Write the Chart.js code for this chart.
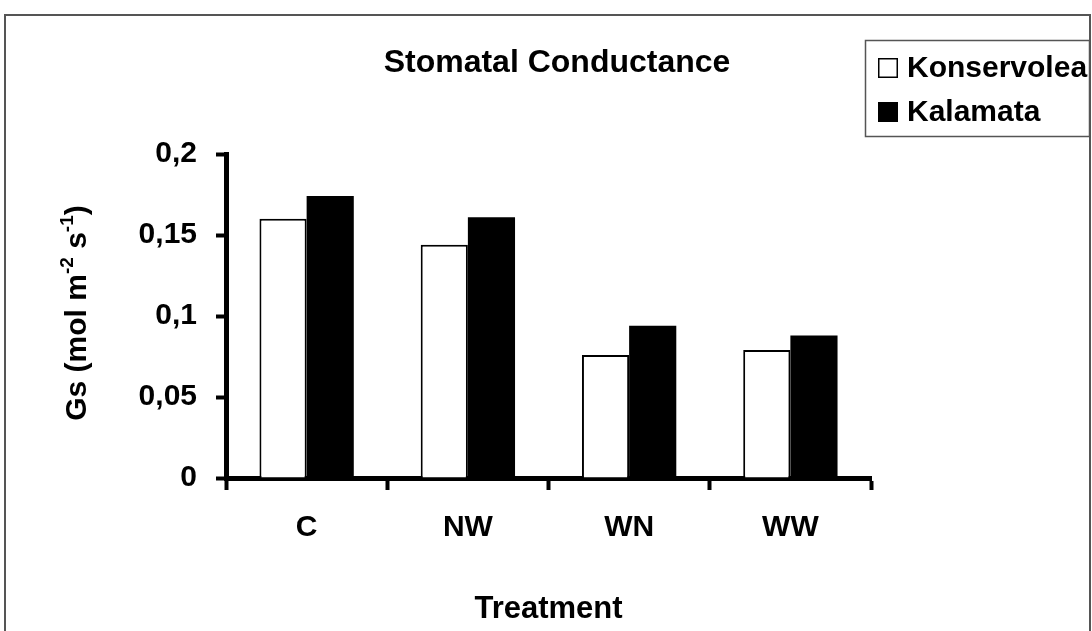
<!DOCTYPE html>
<html>
<head>
<meta charset="utf-8">
<script src="https://cdn.jsdelivr.net/npm/chart.js@4"></script>
<style>
  html, body { margin: 0; padding: 0; background: #fff; }
  #wrap { width: 1092px; height: 631px; position: relative; }
</style>
</head>
<body>
<div id="wrap"><canvas id="gsChart"></canvas></div>
<script>
// data
const treatments = ['C', 'NW', 'WN', 'WW'];
const konservolea = [0.160, 0.144, 0.076, 0.079];
const kalamata = [0.174, 0.161, 0.094, 0.088];
const yTickLabels = ['0', '0,05', '0,1', '0,15', '0,2'];

const chartTitle = 'Stomatal Conductance';
const xTitle = 'Treatment';
// y title pieces, true = superscript
const yTitleParts = [['Gs (mol m', false], ['-2', true], [' s', false], ['-1', true], [')', false]];

const FONT = '"Liberation Sans", Arial, sans-serif';

// titles, legend and frame drawn on top of the chart
const decorations = {
  id: 'decorations',
  beforeDraw(chart) {
    const ctx = chart.ctx;
    ctx.save();
    ctx.fillStyle = '#fff';
    ctx.fillRect(0, 0, chart.width, chart.height);
    ctx.strokeStyle = '#555';
    ctx.lineWidth = 2;
    ctx.strokeRect(5, 15, 1085, 700);
    ctx.restore();
  },
  afterDraw(chart) {
    const ctx = chart.ctx;
    const area = chart.chartArea;
    ctx.save();
    ctx.fillStyle = '#000';
    ctx.textBaseline = 'middle';

    // chart title
    ctx.font = 'bold 32px ' + FONT;
    ctx.textAlign = 'center';
    ctx.fillText(chartTitle, 557, 63);

    // x axis title
    ctx.font = 'bold 31px ' + FONT;
    ctx.fillText(xTitle, (area.left + area.right) / 2, 609);

    // y axis title with superscripts
    ctx.translate(78, (area.top + area.bottom) / 2 - 3);
    ctx.rotate(-Math.PI / 2);
    const big = 'bold 30px ' + FONT, small = 'bold 19px ' + FONT;
    let total = 0;
    yTitleParts.forEach(([t, sup]) => {
      ctx.font = sup ? small : big;
      total += ctx.measureText(t).width;
    });
    let x = -total / 2;
    ctx.textAlign = 'left';
    yTitleParts.forEach(([t, sup]) => {
      ctx.font = sup ? small : big;
      ctx.fillText(t, x, sup ? -10 : 0);
      x += ctx.measureText(t).width;
    });
    ctx.restore();

    // legend
    ctx.save();
    ctx.strokeStyle = '#555';
    ctx.lineWidth = 1.5;
    ctx.fillStyle = '#fff';
    ctx.fillRect(865, 40, 225, 97);
    ctx.strokeRect(865.5, 40.5, 224, 96);
    ctx.font = 'bold 30px ' + FONT;
    ctx.textBaseline = 'middle';
    ctx.textAlign = 'left';
    chart.data.datasets.forEach((ds, i) => {
      const cy = 68 + i * 44;
      ctx.fillStyle = ds.backgroundColor;
      ctx.fillRect(878, cy - 10, 20, 20);
      ctx.strokeStyle = '#000';
      ctx.lineWidth = 1.5;
      ctx.strokeRect(878.75, cy - 9.25, 18.5, 18.5);
      ctx.fillStyle = '#000';
      ctx.fillText(ds.label, 907, cy + 1);
    });
    ctx.restore();
  }
};

new Chart(document.getElementById('gsChart'), {
  type: 'bar',
  data: {
    labels: treatments,
    datasets: [
      {
        label: 'Konservolea',
        data: konservolea,
        backgroundColor: '#ffffff',
        borderColor: '#000000',
        borderWidth: 2,
        categoryPercentage: 0.585,
        barPercentage: 1.0
      },
      {
        label: 'Kalamata',
        data: kalamata,
        backgroundColor: '#000000',
        borderColor: '#000000',
        borderWidth: 0,
        categoryPercentage: 0.585,
        barPercentage: 1.0
      }
    ]
  },
  options: {
    responsive: true,
    maintainAspectRatio: false,
    animation: false,
    devicePixelRatio: 1,
    layout: { padding: { left: 0, top: 154, right: 221, bottom: 0 } },
    plugins: {
      legend: { display: false },
      title: { display: false },
      tooltip: { enabled: false }
    },
    scales: {
      x: {
        afterFit(scale) { scale.height = 631 - 478; },
        grid: {
          display: true,
          drawOnChartArea: false,
          drawTicks: true,
          tickLength: 12,
          tickWidth: 4,
          color: '#000',
          offset: true
        },
        border: { display: true, color: '#000', width: 5 },
        ticks: {
          color: '#000',
          padding: 20,
          font: { family: FONT, size: 30, weight: 'bold' }
        }
      },
      y: {
        min: 0,
        max: 0.2,
        afterFit(scale) { scale.width = 226; },
        grid: {
          display: true,
          drawOnChartArea: false,
          drawTicks: true,
          tickLength: 10,
          tickWidth: 4,
          color: '#000'
        },
        border: { display: true, color: '#000', width: 5 },
        ticks: {
          stepSize: 0.05,
          color: '#000',
          padding: 19,
          font: { family: FONT, size: 30, weight: 'bold' },
          callback: (v, i) => yTickLabels[i]
        }
      }
    }
  },
  plugins: [decorations]
});
</script>
</body>
</html>
